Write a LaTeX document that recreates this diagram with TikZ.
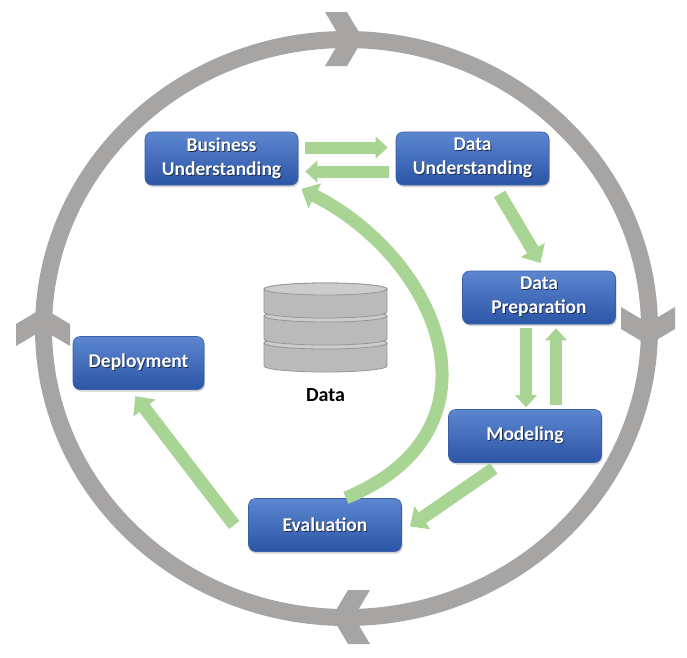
\documentclass[tikz,border=0pt]{standalone}
\usepackage{fontspec}
\setmainfont{Carlito}
\usetikzlibrary{arrows.meta,shadows}
\definecolor{ringgray}{RGB}{167,164,164}
\definecolor{arrowgreen}{RGB}{168,212,148}
\definecolor{boxtop}{RGB}{92,134,208}
\definecolor{boxbottom}{RGB}{44,86,166}
\definecolor{boxline}{RGB}{58,96,170}
\definecolor{textshade}{RGB}{28,44,80}
\definecolor{disktop}{RGB}{204,204,204}
\definecolor{diskside}{RGB}{186,186,186}
\definecolor{diskline}{RGB}{150,150,150}
\newcommand{\shd}[1]{\leavevmode\rlap{\hspace{0.9pt}\raisebox{-0.9pt}{\textcolor{textshade}{#1}}}#1}

\begin{document}
\begin{tikzpicture}[x=1pt, y=-1pt,
	phase/.style = {draw=boxline, line width=0.6pt, rounded corners=7pt, top color=boxtop, bottom color=boxbottom, minimum width=153pt, minimum height=53pt, inner sep=2pt, align=center, text=white, font=\bfseries\fontsize{19.5}{24}\selectfont, drop shadow={shadow xshift=1pt, shadow yshift=-2pt, opacity=0.35}},
	flow/.style = {draw=arrowgreen, line width=13pt, -{Triangle[width=28pt, length=15pt, line width=0pt]}},
	thin flow/.style = {flow, line width=12pt, -{Triangle[width=22pt, length=12pt, line width=0pt]}},
	ring/.style = {draw=ringgray, line width=17pt},
	disk/.style = {draw=diskline, line width=0.8pt}]
	\fill[white] (0,0) rectangle (687,657);
	\useasboundingbox (0,0) rectangle (687,657);

	\draw[ring] (346.5,328.5) ellipse [x radius=303, y radius=289];
	\foreach \x/\y/\r in {363/39/0, 648/345/-90, 332/617/180, 43/308/90}
		\fill[ringgray, shift={(\x,\y)}, rotate=\r] (0,0) -- (-16,27) -- (-38,27) -- (-22,0) -- (-38,-27) -- (-16,-27) -- cycle;

	\foreach \y in {343,316,289} {
		\filldraw[disk, fill=diskside] (264,\y) -- (264,\y+23) arc[start angle=180, end angle=0, x radius=61.5, y radius=6] -- (387,\y) arc[start angle=0, end angle=-180, x radius=61.5, y radius=6] -- cycle;
		\filldraw[disk, fill=disktop] (325.5,\y) ellipse [x radius=61.5, y radius=6];
	}
	\node[font=\bfseries\fontsize{20}{24}\selectfont] (data) at (325.5,395) {Data};

	\node[phase] (bu) at (221.5,158.5) {\shd{Business}\\\shd{Understanding}};
	\node[phase] (du) at (472.5,158.5) {\shd{Data}\\\shd{Understanding}};
	\node[phase] (dp) at (539,297.5) {\shd{Data}\\\shd{Preparation}};
	\node[phase] (mod) at (525,436) {\shd{Modeling}};
	\node[phase] (eval) at (325,525) {\shd{Evaluation}};
	\node[phase, minimum width=131pt] (dep) at (138.5,363) {\shd{Deployment}};

	\draw[thin flow, shorten <=7pt, shorten >=8pt] ([yshift=11pt]bu.east) -- ([yshift=11pt]du.west);
	\draw[thin flow, shorten <=7pt, shorten >=7pt] ([yshift=-13pt]du.west) -- ([yshift=-13pt]bu.east);
	\draw[flow, shorten <=10pt, shorten >=9pt] ([xshift=22pt]du.south) -- ([xshift=6pt]dp.north);
	\draw[thin flow, shorten <=4pt, shorten >=2pt] ([xshift=-13pt]dp.south) -- ([xshift=1pt]mod.north);
	\draw[thin flow, shorten <=4pt, shorten >=4pt] ([xshift=31pt]mod.north) -- ([xshift=17pt]dp.south);
	\draw[flow, shorten <=10pt, shorten >=10pt] ([xshift=-23pt]mod.south) -- ([yshift=-7pt]eval.east);
	\draw[flow, shorten <=1pt, shorten >=8pt] ([xshift=20pt]eval.north) .. controls (510,430) and (440,260) .. ([xshift=-4pt]bu.south east);
	\draw[flow, shorten >=8pt] ([xshift=-14pt]eval.west) -- ([xshift=-8pt]dep.south);
\end{tikzpicture}
\end{document}
